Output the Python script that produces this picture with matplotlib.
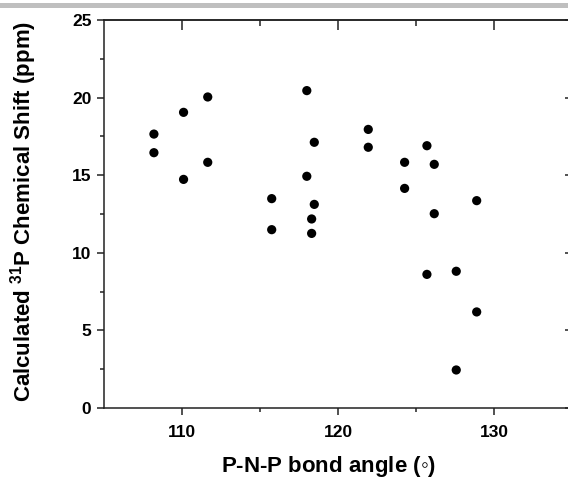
import matplotlib
matplotlib.use("Agg")
import matplotlib.pyplot as plt
from matplotlib.patches import Rectangle

# P-N-P bond angle (deg) and calculated 31P shift (ppm)
angle = [108.2, 108.2, 110.1, 110.1, 111.65, 111.65,
         115.75, 115.75,
         118.0, 118.48, 118.0, 118.48, 118.31, 118.31,
         121.94, 121.94, 124.27, 124.27,
         125.7, 126.17, 126.17, 128.89,
         125.7, 127.58, 128.89, 127.58]
shift = [17.65, 16.45, 19.05, 14.73, 20.04, 15.83,
         13.49, 11.49,
         20.45, 17.12, 14.93, 13.12, 12.18, 11.25,
         17.95, 16.8, 15.83, 14.15,
         16.9, 15.7, 12.52, 13.36,
         8.61, 8.81, 6.19, 2.45]

xticks = [110, 120, 130]
yticks = [0, 5, 10, 15, 20, 25]

plt.rcParams.update({
    "font.family": ["Liberation Sans", "DejaVu Sans"],
    "font.weight": "bold",
    "mathtext.fontset": "custom",
    "mathtext.rm": "Liberation Sans",
    "mathtext.bf": "Liberation Sans:bold",
    "axes.linewidth": 1.1,
    "axes.edgecolor": "#222222",
})

fig = plt.figure(figsize=(5.68, 4.84), dpi=100)
# grey strip along the top edge
fig.add_artist(Rectangle((0, 1 - 7.5 / 484), 1, 4.5 / 484,
                         transform=fig.transFigure, color="#bfbfbf", lw=0))

# axes run past the right edge of the picture, as in the original
ax = fig.add_axes([104 / 568, 76 / 484, 468 / 568, 388 / 484])
ax.scatter(angle, shift, s=44, c="black", edgecolors="none", zorder=3)

ax.set_xlim(105, 135)
ax.set_ylim(0, 25)
ax.set_xticks(xticks)
ax.set_xticks([115, 125], minor=True)
ax.set_yticks(yticks)
ax.set_yticks([2.5, 7.5, 12.5, 17.5, 22.5], minor=True)
ax.tick_params(which="both", direction="out", colors="#222222", width=1.1,
               labelsize=12.5, labelcolor="black", top=False, right=False, pad=4)
ax.tick_params(which="major", length=5)
ax.tick_params(which="minor", length=3)
for lab in ax.get_xticklabels() + ax.get_yticklabels():
    lab.set_fontweight("bold")
ax.tick_params(axis="x", pad=7)

# inward ticks on the top and right sides
top = ax.secondary_xaxis("top")
top.set_xticks(xticks)
top.set_xticks([115, 125], minor=True)
top.tick_params(which="both", direction="in", labeltop=False, width=1.1, colors="#222222")
top.tick_params(which="major", length=7)
top.tick_params(which="minor", length=4)
right = ax.secondary_yaxis("right")
right.set_yticks(yticks)
right.set_yticks([2.5, 7.5, 12.5, 17.5, 22.5], minor=True)
right.tick_params(which="both", direction="in", labelright=False, width=1.1, colors="#222222")
right.tick_params(which="major", length=5)
right.tick_params(which="minor", length=0)

ax.set_xlabel("P-N-P bond angle $\\mathrm{(}$\u25e6$\\mathrm{)}$", fontsize=16,
              fontweight="bold")
ax.set_ylabel(r"Calculated $^{\mathbf{31}}$P Chemical Shift (ppm)", fontsize=16,
              fontweight="bold")
ax.xaxis.label.set_va("center")
ax.xaxis.set_label_coords(0.48, -0.152)
ax.yaxis.label.set_va("center")
ax.yaxis.set_label_coords(-0.171, 0.506)

fig.savefig("out.png", dpi=100)
